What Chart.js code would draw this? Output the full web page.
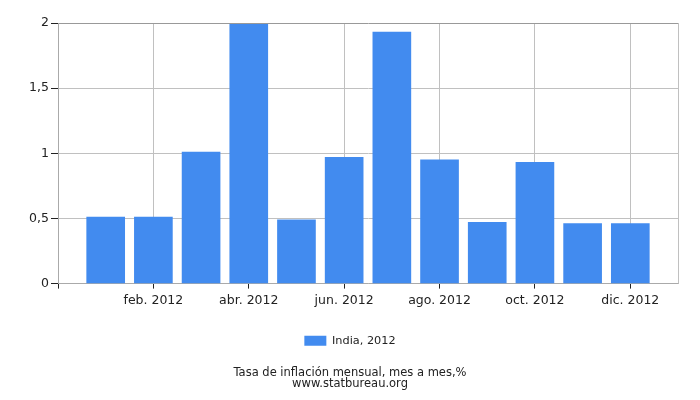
<!DOCTYPE html>
<html>
<head>
<meta charset="utf-8">
<script src="https://cdn.jsdelivr.net/npm/chart.js@4/dist/chart.umd.min.js"></script>
<style>
  html, body { margin: 0; padding: 0; background: #fff; }
  #wrap { width: 700px; height: 400px; }
</style>
</head>
<body>
<div id="wrap"><canvas id="inflChart" width="700" height="400"></canvas></div>
<script>
// datos: inflación mensual India 2012
const meses = ["ene. 2012", "feb. 2012", "mar. 2012", "abr. 2012", "may. 2012", "jun. 2012",
  "jul. 2012", "ago. 2012", "sep. 2012", "oct. 2012", "nov. 2012", "dic. 2012"];
const posiciones = [1, 2, 3, 4, 5, 6, 7, 8, 9, 10, 11, 12];
const valores = [0.51, 0.51, 1.01, 1.99, 0.49, 0.97, 1.93, 0.95, 0.47, 0.93, 0.46, 0.46];
const serie = "India, 2012";
const titulo = ["Tasa de inflación mensual, mes a mes,%", "www.statbureau.org"];

const fuente = "'DejaVu Sans', Verdana, sans-serif";
const azul = "#428bef";

// borde derecho del área del gráfico
const bordePlugin = {
  id: "borde",
  afterDraw(chart) {
    const a = chart.chartArea;
    const ctx = chart.ctx;
    ctx.save();
    ctx.strokeStyle = "#c0c0c0";
    ctx.lineWidth = 1;
    ctx.beginPath();
    ctx.moveTo(Math.round(a.right) + 0.5, a.top);
    ctx.lineTo(Math.round(a.right) + 0.5, a.bottom);
    ctx.stroke();
    ctx.restore();
  },
};

const ctx = document.getElementById("inflChart").getContext("2d");
const chart = new Chart(ctx, {
  type: "bar",
  data: {
    datasets: [
      {
        label: serie,
        data: posiciones.map((p, i) => ({ x: p, y: valores[i] })),
        backgroundColor: azul,
        borderWidth: 0,
        barThickness: 38,
      },
    ],
  },
  options: {
    responsive: false,
    devicePixelRatio: 1,
    animation: false,
    layout: { padding: { top: 23, right: 0, left: 0, bottom: 0 } },
    scales: {
      x: {
        type: "linear",
        min: 0,
        max: 13,
        offset: false,
        afterFit: (s) => { s.height = 41.6; },
        grid: { color: "#c0c0c0", tickColor: "#222", tickLength: 5, offset: false },
        border: { color: "#aaa" },
        ticks: {
          stepSize: 2,
          includeBounds: false,
          padding: 5,
          maxRotation: 0,
          autoSkip: false,
          color: "#222",
          font: { family: fuente, size: 12.5 },
          callback: (v) => (v > 0 && v <= 12 ? meses[v - 1] : ""),
        },
      },
      y: {
        min: 0,
        max: 2,
        afterFit: (s) => { s.width = 58; },
        grid: {
          color: (c) => (c.tick && c.tick.value === 2 ? "#999" : "#c0c0c0"),
          tickColor: "#222",
          tickLength: 7,
        },
        border: { color: "#aaa" },
        ticks: {
          stepSize: 0.5,
          padding: 2,
          color: "#222",
          font: { family: fuente, size: 12.5 },
          callback: (v) => String(v).replace(".", ","),
        },
      },
      // eje vacío a la derecha, solo reserva el margen
      margen: {
        position: "right",
        min: 0,
        max: 2,
        afterFit: (s) => { s.width = 22; },
        grid: { display: false },
        border: { display: false },
        ticks: { display: false },
      },
    },
    plugins: {
      legend: {
        position: "bottom",
        labels: {
          boxWidth: 22,
          boxHeight: 10,
          padding: 10,
          color: "#222",
          font: { family: fuente, size: 11.3 },
        },
      },
      title: {
        display: true,
        position: "bottom",
        text: titulo,
        color: "#222",
        font: { family: fuente, size: 11.5, weight: "normal", lineHeight: 0.96 },
        padding: { top: 10.5, bottom: 10.9 },
      },
      tooltip: { enabled: false },
    },
  },
  plugins: [bordePlugin],
});
</script>
</body>
</html>
